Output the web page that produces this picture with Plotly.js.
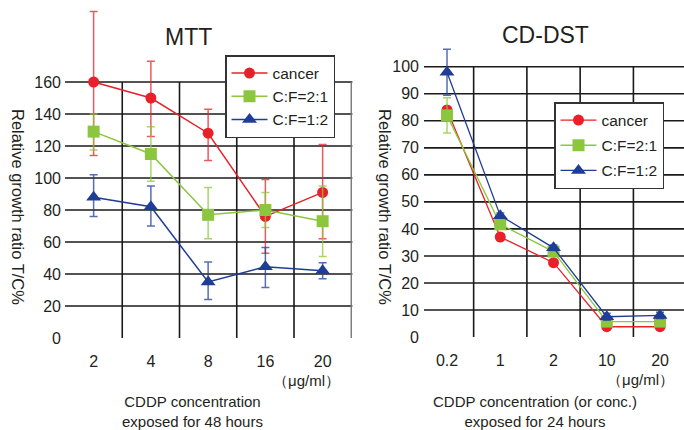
<!DOCTYPE html>
<html><head><meta charset="utf-8">
<script src="https://cdn.plot.ly/plotly-3.0.1.min.js"></script>
<style>html,body{margin:0;padding:0;background:#fff;overflow:hidden}</style>
</head><body>
<div id="chart" style="width:684px;height:430px"></div>
<script>
// ---- Data: MTT (48 h) ----
const mttConc = ["2", "4", "8", "16", "20"];
const mttCancer = [160, 150, 128, 76, 91];
const mttCancerErrUp = [44, 23, 15, 23, 30];
const mttCancerErrDn = [46, 24, 17, 23, 29];
const mttCF21 = [129, 115, 77, 80, 73];
const mttCF21ErrUp = [11, 17, 17, 11, 22];
const mttCF21ErrDn = [11.5, 17, 15, 11, 22];
const mttCF12 = [88, 82, 35, 44.5, 42];
const mttCF12ErrUp = [14, 13, 12.5, 12, 5];
const mttCF12ErrDn = [12, 12, 11, 13, 5];
const mttYTicks = [0, 20, 40, 60, 80, 100, 120, 140, 160];

// ---- Data: CD-DST (24 h) ----
const dstConc = ["0.2", "1", "2", "10", "20"];
const dstCancer = [84, 37, 27.5, 3.8, 3.8];
const dstCancerErr = [1, 1, 1, 0.5, 0.5];
const dstCF21 = [82, 41.7, 31.6, 5.7, 5.7];
const dstCF21Err = [6.5, 1, 1, 0.5, 0.5];
const dstCF12 = [98, 44.9, 33, 7.5, 8];
const dstCF12Err = [8.5, 1, 1, 1.3, 1.2];
const dstYTicks = [0, 10, 20, 30, 40, 50, 60, 70, 80, 90, 100];

const names = ["cancer", "C:F=2:1", "C:F=1:2"];
const lineCols = ["#e8202a", "#8cc63f", "#1f3c96"];
const errCols = ["rgba(232,32,42,0.75)", "rgba(140,198,63,0.75)", "rgba(31,60,150,0.75)"];
const symbols = ["circle", "square", "triangle-up"];
const msizes = [11, 12, 13];

const FONT = "Liberation Sans, Arial, Helvetica, sans-serif";
const TXT = "#231f20";
const W = 684, H = 430;
const px = v => v / W;
const py = v => (H - v) / H;

function mk(x, y, up, dn, i, xa, ya, leg, grouped) {
  const t = {
    type: "scatter", mode: "lines+markers", x: x, y: y, name: names[i],
    xaxis: xa, yaxis: ya, legend: leg,
    line: {color: lineCols[i], width: 1.5},
    marker: {color: lineCols[i], symbol: symbols[i], size: msizes[i]},
    error_y: {type: "data", symmetric: false, array: up, arrayminus: dn,
      color: errCols[i], thickness: 1.5, width: 4},
    cliponaxis: false
  };
  if (grouped) t.legendgroup = leg + i;
  return t;
}

const traces = [
  mk(mttConc, mttCancer, mttCancerErrUp, mttCancerErrDn, 0, "x", "y", "legend", false),
  mk(mttConc, mttCF21, mttCF21ErrUp, mttCF21ErrDn, 1, "x", "y", "legend", false),
  mk(mttConc, mttCF12, mttCF12ErrUp, mttCF12ErrDn, 2, "x", "y", "legend", false),
  mk(dstConc, dstCancer, dstCancerErr, dstCancerErr, 0, "x2", "y2", "legend2", true),
  mk(dstConc, dstCF21, dstCF21Err, dstCF21Err, 1, "x2", "y2", "legend2", true),
  mk(dstConc, dstCF12, dstCF12Err, dstCF12Err, 2, "x2", "y2", "legend2", true)
];
traces.slice(3).forEach(t => { t.line.width = 1.3; });

// gridlines built from tick arrays
const shapes = [];
const gridCol = "#1a1a1a";
function grid(xr, yr, yTicks, nCat, rightBorder) {
  const top = yTicks[yTicks.length - 1];
  yTicks.filter(v => v > 0).forEach(v => shapes.push({type: "line", layer: "below",
    xref: xr + " domain", yref: yr, x0: 0, x1: 1, y0: v, y1: v, line: {color: gridCol, width: 1.6}}));
  for (let k = 0; k < nCat - 1; k++) {
    shapes.push({type: "line", layer: "below", xref: xr, yref: yr,
      x0: k + 0.5, x1: k + 0.5, y0: 0, y1: top, line: {color: gridCol, width: 1.6}});
  }
  if (rightBorder) shapes.push({type: "line", layer: "below", xref: xr, yref: yr,
    x0: nCat - 0.5, x1: nCat - 0.5, y0: 0, y1: top, line: {color: "#777", width: 1.4}});
}
grid("x", "y", mttYTicks, mttConc.length, true);
grid("x2", "y2", dstYTicks, dstConc.length, false);

const axX = {type: "category", showgrid: false, zeroline: false, showline: false,
  ticks: "", ticklabelstandoff: 12, tickfont: {size: 16, color: TXT, family: FONT}, fixedrange: true};
const axY = {showgrid: false, zeroline: false, showline: false, ticks: "",
  ticklabelstandoff: 3, tickfont: {size: 16, color: TXT, family: FONT}, fixedrange: true};

const layout = {
  width: W, height: H, margin: {l: 0, r: 0, t: 0, b: 0},
  paper_bgcolor: "#fff", plot_bgcolor: "rgba(0,0,0,0)",
  font: {family: FONT, color: TXT},
  showlegend: true,
  xaxis: Object.assign({}, axX, {domain: [px(65), px(352.4)], range: [-0.5, 4.52], anchor: "y"}),
  yaxis: Object.assign({}, axY, {domain: [py(338), py(8)], range: [0, 206.25], anchor: "x",
    tickvals: mttYTicks, ticktext: mttYTicks.map(String)}),
  xaxis2: Object.assign({}, axX, {domain: [px(424), 1], range: [-0.432, 4.45], anchor: "y2"}),
  yaxis2: Object.assign({}, axY, {domain: [py(337), py(30)], range: [0, 113.6], anchor: "x2",
    tickvals: dstYTicks, ticktext: dstYTicks.map(String), ticklabelstandoff: 4}),
  legend: {x: px(225), y: py(55), xanchor: "left", yanchor: "top", bgcolor: "#fff",
    bordercolor: "#333", borderwidth: 1.5, font: {size: 15.5, color: TXT, family: FONT},
    entrywidth: 84, itemwidth: 36},
  legend2: {x: px(554), y: py(102), xanchor: "left", yanchor: "top", bgcolor: "#fff",
    bordercolor: "#333", borderwidth: 1.5, font: {size: 15.5, color: TXT, family: FONT},
    tracegroupgap: 2, entrywidth: 82, itemwidth: 36},
  shapes: shapes,
  annotations: [
    {text: "MTT", x: px(188), y: py(37), xref: "paper", yref: "paper", showarrow: false,
      font: {size: 23, color: TXT}, xanchor: "center", yanchor: "middle"},
    {text: "CD-DST", x: px(545), y: py(35), xref: "paper", yref: "paper", showarrow: false,
      font: {size: 23, color: TXT}, xanchor: "center", yanchor: "middle"},
    {text: "Relative growth ratio T/C%", x: px(18), y: py(207), xref: "paper", yref: "paper",
      showarrow: false, textangle: 90, font: {size: 16.5, color: TXT}, xanchor: "center", yanchor: "middle"},
    {text: "Relative growth ratio T/C%", x: px(385), y: py(207), xref: "paper", yref: "paper",
      showarrow: false, textangle: 90, font: {size: 16.5, color: TXT}, xanchor: "center", yanchor: "middle"},
    {text: "（μg/ml）", x: px(306), y: py(380), xref: "paper", yref: "paper", showarrow: false,
      font: {size: 15, color: TXT}, xanchor: "center", yanchor: "middle"},
    {text: "（μg/ml）", x: px(640), y: py(379), xref: "paper", yref: "paper", showarrow: false,
      font: {size: 15, color: TXT}, xanchor: "center", yanchor: "middle"},
    {text: "CDDP concentration<br>exposed for 48 hours", x: px(192), y: py(411), xref: "paper", yref: "paper",
      showarrow: false, font: {size: 15, color: TXT}, xanchor: "center", yanchor: "middle"},
    {text: "CDDP concentration (or conc.)<br>exposed for 24 hours", x: px(535), y: py(411), xref: "paper", yref: "paper",
      showarrow: false, font: {size: 15, color: TXT}, xanchor: "center", yanchor: "middle"}
  ]
};

Plotly.newPlot("chart", traces, layout, {displayModeBar: false, staticPlot: true});
</script>
</body></html>
